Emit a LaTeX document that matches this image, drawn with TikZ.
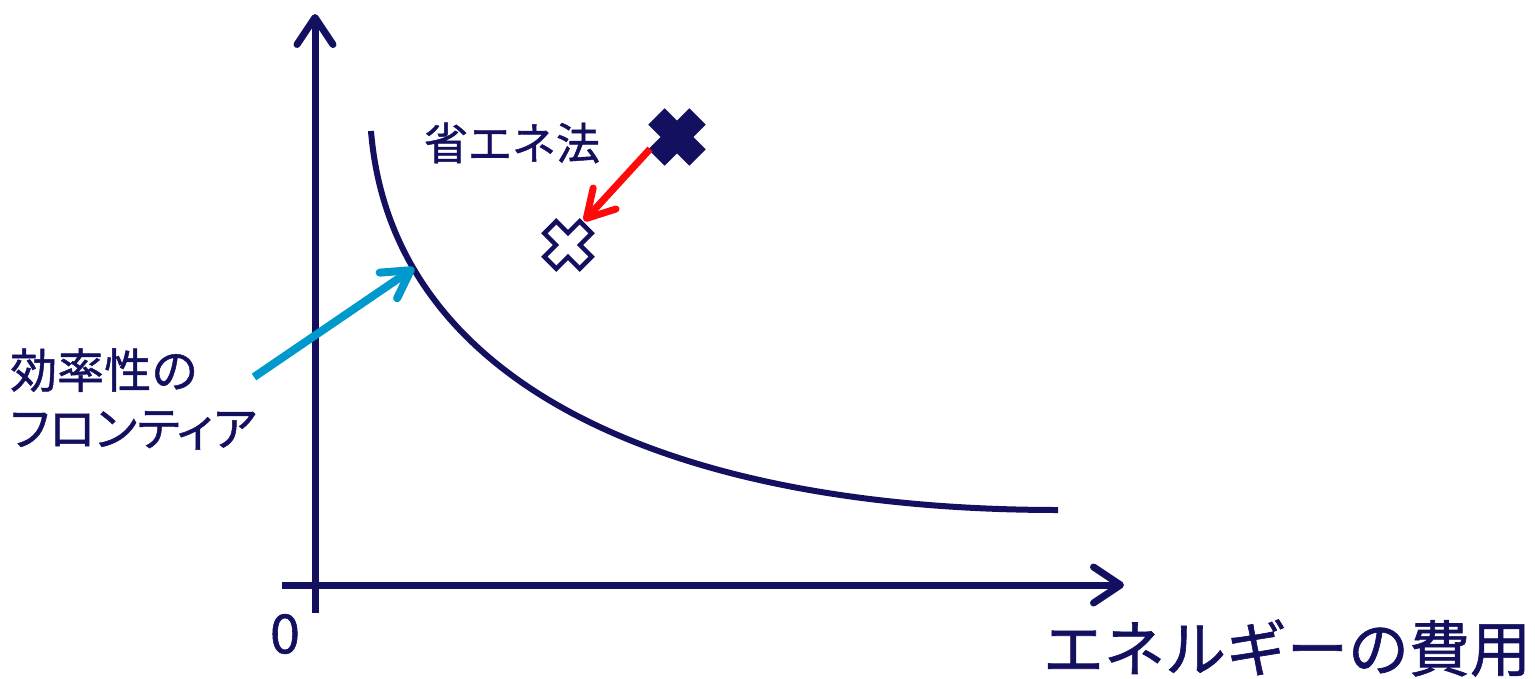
\documentclass[tikz,border=0pt]{standalone}
\usepackage{fontspec}
\setmainfont{Noto Sans CJK JP}[FakeBold=1]
\newfontfamily\propjp{Noto Sans CJK JP}[FakeBold=1,RawFeature=+palt]
\usetikzlibrary{arrows.meta}
\definecolor{navy}{RGB}{20,16,96}
\definecolor{cyanarrow}{RGB}{0,153,204}
\definecolor{redarrow}{RGB}{255,10,10}
\begin{document}
\begin{tikzpicture}[x=1pt,y=-1pt,
  axis/.style={line width=7pt, draw=navy, -{Straight Barb[length=27pt,width=36pt,round]}},
  frontier/.style={line width=6pt, draw=navy},
  pointer/.style={line width=7.5pt, -{Straight Barb[length=27pt,width=31pt,round]}},
  lbl/.style={text=navy, inner sep=0pt},
  xfill/.style={fill=navy, draw=navy, line width=4pt, line join=miter},
  xopen/.style={fill=white, draw=navy, line width=4.5pt, line join=miter}]
\useasboundingbox (0,0) rectangle (1535,678);
% axes
\coordinate (yb) at (315,613);
\coordinate (yt) at (315,14);
\coordinate (xl) at (282,585);
\coordinate (xr) at (1124,585);
\draw[axis] (yb) -- (yt);
\draw[axis] (xl) -- (xr);
% frontier curve
\coordinate (c1) at (371,131);
\coordinate (cc1) at (392,390);
\coordinate (cc2) at (680,510);
\coordinate (c2) at (1058,510);
\draw[frontier] (c1) .. controls (cc1) and (cc2) .. (c2);
% labels
\node[lbl, font=\fontsize{61}{70}\selectfont] (xlabel) at (1287,648) {エネルギーの費用};
\node[lbl, font=\fontsize{54}{60}\selectfont] (zero) at (285,634) {0};
\node[lbl, font=\fontsize{44}{50}\selectfont] (law) at (512,143) {省エネ法};
\node[lbl, anchor=west, align=left, font=\fontsize{47}{58}\selectfont] (front) at (10,399) {効率性の\\{\propjp フロンティア}};
% markers
\begin{scope}[shift={(677,137)}, rotate=45]
  \path[xfill] (9.5,27) -- (9.5,9.5) -- (27,9.5) -- (27,-9.5) -- (9.5,-9.5) -- (9.5,-27) -- (-9.5,-27) -- (-9.5,-9.5) -- (-27,-9.5) -- (-27,9.5) -- (-9.5,9.5) -- (-9.5,27) -- cycle;
  \coordinate (xa) at (0,0);
\end{scope}
\begin{scope}[shift={(568,245)}, rotate=45]
  \path[xopen] (8.5,25) -- (8.5,8.5) -- (25,8.5) -- (25,-8.5) -- (8.5,-8.5) -- (8.5,-25) -- (-8.5,-25) -- (-8.5,-8.5) -- (-25,-8.5) -- (-25,8.5) -- (-8.5,8.5) -- (-8.5,25) -- cycle;
  \coordinate (xb) at (0,0);
\end{scope}
% arrows
\coordinate (rs) at (650,149);
\coordinate (re) at (584,221);
\draw[pointer, draw=redarrow, line width=7pt] (rs) -- (re);
\coordinate (cs) at (254,377);
\coordinate (ce) at (414,268);
\draw[pointer, draw=cyanarrow, line width=8pt] (cs) -- (ce);
\end{tikzpicture}
\end{document}
